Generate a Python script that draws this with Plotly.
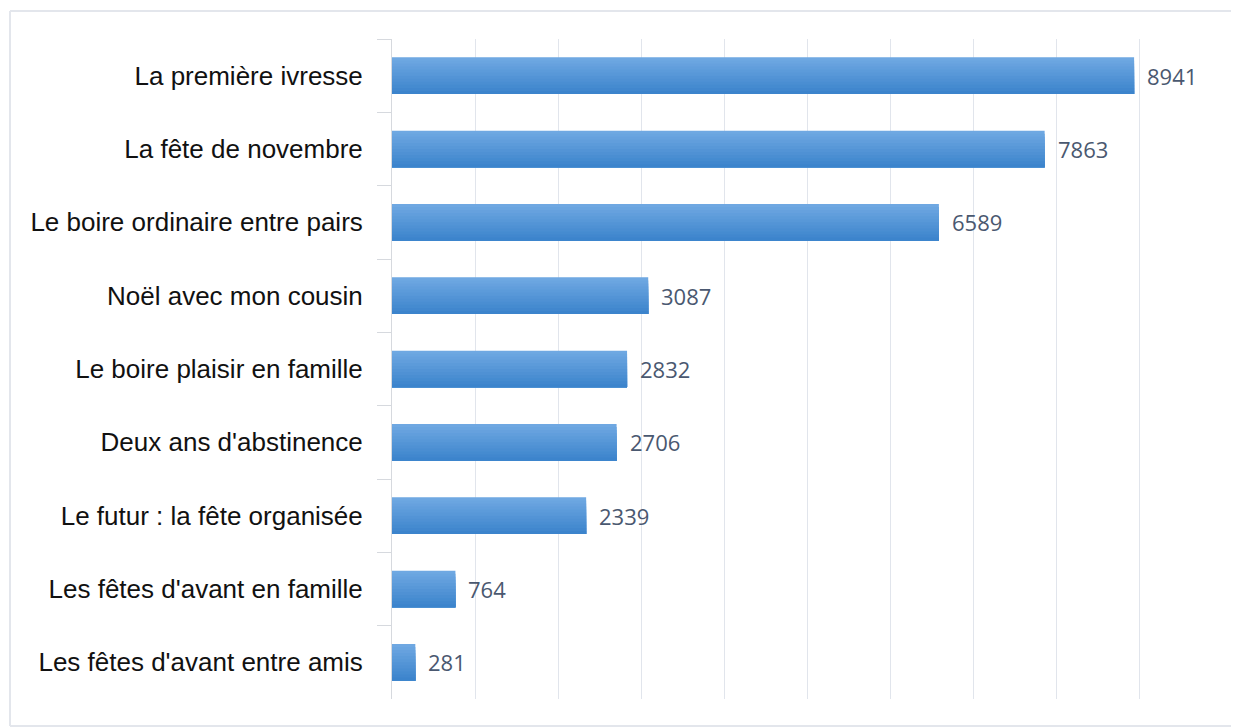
import plotly.graph_objects as go

categories = [
    "La première ivresse",
    "La fête de novembre",
    "Le boire ordinaire entre pairs",
    "Noël avec mon cousin",
    "Le boire plaisir en famille",
    "Deux ans d'abstinence",
    "Le futur : la fête organisée",
    "Les fêtes d'avant en famille",
    "Les fêtes d'avant entre amis",
]
values = [8941, 7863, 6589, 3087, 2832, 2706, 2339, 764, 281]

fig = go.Figure()

# gradient approximation: overlapping bands from light (top) to darker (bottom)
top_col = (0x6F, 0xA8, 0xE2)
bot_col = (0x3C, 0x84, 0xCC)
n_bands = 12
total_w = 0.5
band_w = total_w / n_bands
for i in range(n_bands):
    t = i / (n_bands - 1)
    c = tuple(round(top_col[k] + (bot_col[k] - top_col[k]) * t) for k in range(3))
    color = "rgb(%d,%d,%d)" % c
    off = -total_w / 2 + i * band_w
    fig.add_trace(go.Bar(
        x=values, y=categories, orientation="h",
        width=total_w - i * band_w, offset=off,
        marker=dict(color=color, line=dict(width=0)),
        hoverinfo="skip", showlegend=False,
    ))

for v, c in zip(values, categories):
    fig.add_annotation(
        x=v, y=c, text=str(v), showarrow=False, xanchor="left", xshift=11,
        font=dict(family="Open Sans, Noto Sans, sans-serif", size=22, color="#4A5870"),
    )

W, H = 1231, 720
L, R, T, B = 384, 17, 31, 29
pw, ph = W - L - R, H - T - B
bx0 = (2 - L) / pw
bx1 = (W - L) / pw
by0 = (ph + T - 718) / ph
by1 = (ph + T - 3) / ph
border = dict(color="#E3E6EC", width=2)
for (xa, ya, xb, yb) in [(bx0, by1, bx1, by1), (bx0, by0, bx0, by1), (bx0, by0, bx1, by0)]:
    fig.add_shape(type="line", xref="paper", yref="paper",
                  x0=xa, y0=ya, x1=xb, y1=yb, line=border, layer="below")

fig.update_layout(
    width=W, height=H,
    margin=dict(l=L, r=R, t=T, b=B),
    paper_bgcolor="white", plot_bgcolor="white",
    barmode="overlay",
    xaxis=dict(
        range=[0, 10000], dtick=1000, tick0=0,
        showticklabels=False, showgrid=True, gridcolor="#E1E5EC", gridwidth=1,
        zeroline=False, showline=False, ticks="",
    ),
    yaxis=dict(
        categoryorder="array", categoryarray=categories, autorange="reversed",
        showline=True, linecolor="#D6D9DE", linewidth=1,
        ticks="outside", ticklen=14, tickcolor="#D6D9DE", tickson="boundaries",
        ticklabelstandoff=23,
        showgrid=False,
        tickfont=dict(family="Liberation Sans, Arial, sans-serif", size=26, color="#111111"),
    ),
)

fig.write_html("out.html")
